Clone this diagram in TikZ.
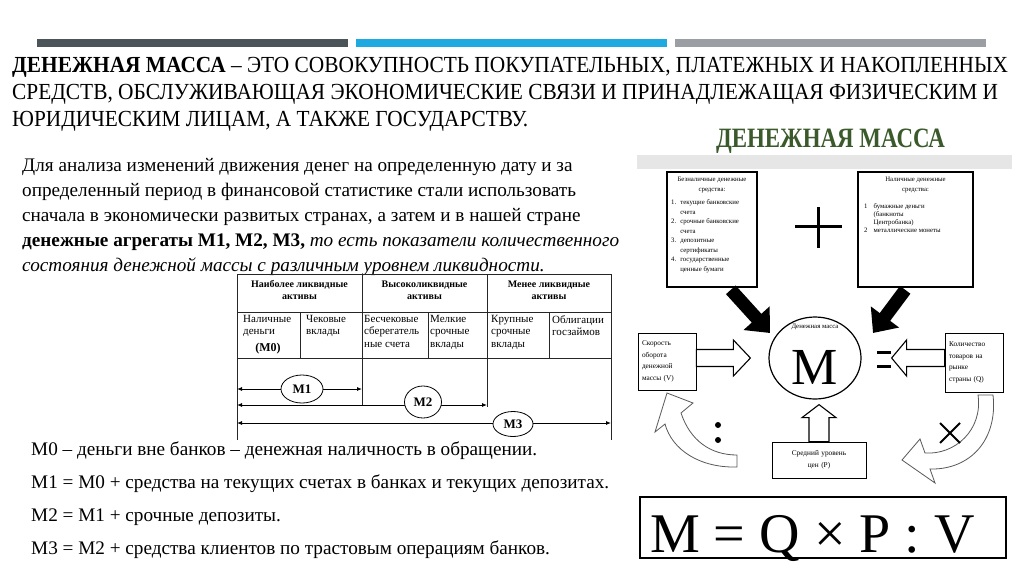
\documentclass[tikz,border=0pt]{standalone}
\usepackage{fontspec}
\usepackage{graphicx}
\setmainfont{Liberation Serif}
\usetikzlibrary{shapes.geometric,arrows.meta,calc}
\definecolor{bardark}{HTML}{4B5459}
\definecolor{barblue}{HTML}{1FA9E1}
\definecolor{bargray}{HTML}{9B9FA4}
\definecolor{titlegreen}{HTML}{3B5A2B}
\definecolor{bandgray}{HTML}{E6E6E6}
\tikzset{
  headtxt/.style={anchor=base west, inner sep=0pt, font=\fontsize{23}{27}\selectfont},
  bodytxt/.style={anchor=base west, inner sep=0pt, font=\fontsize{19.2}{25}\selectfont},
  lowtxt/.style={anchor=base west, inner sep=0pt, font=\fontsize{19.2}{25}\selectfont},
  tbl/.style={line width=0.7pt, draw=black!85},
  tblhead/.style={align=center, inner sep=0pt, font=\bfseries\fontsize{10}{12}\selectfont},
  tblcell/.style={anchor=north west, align=left, inner sep=0pt, font=\fontsize{11}{12.5}\selectfont},
  tarrow/.style={line width=0.9pt, {Latex[length=5pt,width=4pt]}-{Latex[length=5pt,width=4pt]}},
  mell/.style={ellipse, draw, line width=0.8pt, fill=white, inner sep=0pt, font=\bfseries\fontsize{13}{13}\selectfont},
  topbox/.style={draw, line width=1.6pt, inner sep=0pt},
  tinytxt/.style={inner sep=0pt, font=\fontsize{6.8}{9.5}\selectfont},
  sidebox/.style={draw, line width=0.8pt, inner xsep=4pt, inner ysep=0pt, align=left, font=\fontsize{7.3}{11.5}\selectfont},
  hollowarrow/.style={draw, line width=1.1pt, fill=white, line join=miter},
  curvearrow/.style={draw=black!65, line width=0.8pt, fill=white, line join=miter},
  blackarrow/.style={line width=13pt, -{Triangle[length=20pt,width=34pt]}},
}
\begin{document}
\begin{tikzpicture}[x=1pt,y=-1pt]
\useasboundingbox (0,0) rectangle (1024,576);
\fill[white] (0,0) rectangle (1024,576);

% top bars
\fill[bardark] (37,39) rectangle (348,47);
\fill[barblue] (356,39) rectangle (667,47);
\fill[bargray] (675,39) rectangle (986,47);

% heading
\node[headtxt] (h1) at (12,72) {\resizebox{996pt}{\height}{\textbf{ДЕНЕЖНАЯ МАССА} – ЭТО СОВОКУПНОСТЬ ПОКУПАТЕЛЬНЫХ, ПЛАТЕЖНЫХ И НАКОПЛЕННЫХ}};
\node[headtxt] (h2) at (12,99) {\resizebox{986pt}{\height}{СРЕДСТВ, ОБСЛУЖИВАЮЩАЯ ЭКОНОМИЧЕСКИЕ СВЯЗИ И ПРИНАДЛЕЖАЩАЯ ФИЗИЧЕСКИМ И}};
\node[headtxt] (h3) at (12,126) {\resizebox{516pt}{\height}{ЮРИДИЧЕСКИМ ЛИЦАМ, А ТАКЖЕ ГОСУДАРСТВУ.}};

% body paragraph
\node[bodytxt] (b1) at (22,171) {Для анализа изменений движения денег на определенную дату и за};
\node[bodytxt] (b2) at (22,196) {определенный период в финансовой статистике стали использовать};
\node[bodytxt] (b3) at (22,221) {сначала в экономически развитых странах, а затем и в нашей стране};
\node[bodytxt] (b4) at (22,246) {\textbf{денежные агрегаты M1, M2, M3,} \textit{то есть показатели количественного}};
\node[bodytxt] (b5) at (22,271) {\textit{состояния денежной массы с различным уровнем ликвидности.}};

% table
\coordinate (tTL) at (237,274);
\coordinate (tBR) at (611,358);
\draw[tbl] (tTL) rectangle (tBR);
\draw[tbl] (237,312) -- (611,312);
\draw[tbl] (362,274) -- (362,405);
\draw[tbl] (487,274) -- (487,407);
\draw[tbl] (300,312) -- (300,358);
\draw[tbl] (428,312) -- (428,358);
\draw[tbl] (549,312) -- (549,358);
\draw[tbl] (237,358) -- (237,440);
\draw[tbl] (611,358) -- (611,440);
\node[tblhead] (th1) at (299.5,290) {Наиболее ликвидные\\активы};
\node[tblhead] (th2) at (424.5,290) {Высоколиквидные\\активы};
\node[tblhead] (th3) at (549,290) {Менее ликвидные\\активы};
\node[tblcell] (c1) at (243,315) {Наличные\\деньги};
\node[inner sep=0pt, font=\bfseries\fontsize{12}{12}\selectfont] (c1b) at (268,349) {(M0)};
\node[tblcell] (c2) at (306,315) {Чековые\\вклады};
\node[tblcell] (c3) at (364,315) {Бесчековые\\сберегатель\\ные счета};
\node[tblcell] (c4) at (430,315) {Мелкие\\срочные\\вклады};
\node[tblcell] (c5) at (491,315) {Крупные\\срочные\\вклады};
\node[tblcell] (c6) at (552,315) {Облигации\\госзаймов};

\coordinate (a1l) at (237,389); \coordinate (a1r) at (362,389);
\coordinate (a2l) at (237,405); \coordinate (a2r) at (487,405);
\coordinate (a3l) at (237,423); \coordinate (a3r) at (611,423);
\draw[tarrow] (a1l) -- (a1r);
\draw[tarrow] (a2l) -- (a2r);
\draw[tarrow] (a3l) -- (a3r);
\node[mell, minimum width=42, minimum height=28] (m1) at (302,389) {M1};
\node[mell, minimum width=37, minimum height=32] (m2) at (423,402) {M2};
\node[mell, minimum width=40, minimum height=25] (m3) at (513,424) {M3};

% bottom text
\node[lowtxt] (l1) at (31,455) {M0 – деньги вне банков – денежная наличность в обращении.};
\node[lowtxt] (l2) at (31,488) {M1 = M0 + средства на текущих счетах в банках и текущих депозитах.};
\node[lowtxt] (l3) at (31,521) {M2 = M1 + срочные депозиты.};
\node[lowtxt] (l4) at (31,554) {M3 = M2 + средства клиентов по трастовым операциям банков.};

% right diagram title
\node[inner sep=0pt, anchor=base, text=titlegreen, font=\bfseries\fontsize{28}{30}\selectfont] (title) at (830.5,147) {\resizebox{229pt}{\height}{ДЕНЕЖНАЯ МАССА}};
\fill[bandgray] (637,155) rectangle (1012,169);

% top boxes
\node[topbox, minimum width=90, minimum height=115] (LB) at (712,229.5) {};
\node[topbox, minimum width=115, minimum height=115] (RB) at (915.5,229.5) {};
\node[tinytxt, anchor=north, align=center] (LBt) at ($(LB.north)+(0,6)$) {Безналичные денежные\\средства:};
\node[tinytxt, anchor=north west] (LBl) at (671,198) {\begin{tabular}{@{}l@{\hspace{4pt}}l@{}}1.&текущие банковские\\&счета\\2.&срочные банковские\\&счета\\3.&депозитные\\&сертификаты\\4.&государственные\\&ценные бумаги\end{tabular}};
\node[tinytxt, anchor=north, align=center] (RBt) at ($(RB.north)+(0,6)$) {Наличные денежные\\средства:};
\node[tinytxt, anchor=north west, font=\fontsize{6.8}{8}\selectfont] (RBl) at (864,203) {\begin{tabular}{@{}l@{\hspace{6pt}}l@{}}1&бумажные деньги\\&(банкноты\\&Центробанка)\\2&металлические монеты\end{tabular}};

% plus
\draw[line width=3pt] (795,226) -- (842,226);
\draw[line width=3pt] (818.5,207) -- (818.5,248);

% central circle
\node[ellipse, draw, line width=1.2pt, minimum width=92, minimum height=82, inner sep=0pt] (Mc) at (815,358) {};
\node[inner sep=0pt, font=\fontsize{6.8}{7}\selectfont] (Mlab) at (815,327) {Денежная масса};
\node[inner sep=0pt, font=\fontsize{52}{52}\selectfont] (Mbig) at (815,367) {M};

% black arrows
\draw[blackarrow] ($(LB.south east)+(-27,2)$) -- ($(Mc)+(-45,-25)$);
\draw[blackarrow] ($(RB.south west)+(48,2)$) -- ($(Mc)+(58,-25)$);

% side boxes
\node[sidebox, text width=50, minimum height=57] (V) at (667,361.5) {Скорость\\оборота\\денежной\\массы (V)};
\node[sidebox, text width=50, minimum height=59] (Q) at (974,362.5) {Количество\\товаров на\\рынке\\страны (Q)};
\node[sidebox, align=center, inner xsep=2pt, text width=90, minimum height=36] (P) at (819,460) {Средний уровень\\цен (P)};

% hollow arrows
\draw[hollowarrow] (V.east |- Mc) ++(0,-8.5) -- ++(37,0) -- ++(0,-9.5) -- ++(17,18) -- ++(-17,18) -- ++(0,-9.5) -- ++(-37,0) -- cycle;
\draw[hollowarrow] (Q.west |- Mc) ++(0,-8.5) -- ++(-38,0) -- ++(0,-9.5) -- ++(-15,18) -- ++(15,18) -- ++(0,-9.5) -- ++(38,0) -- cycle;
\draw[hollowarrow] (P.north) ++(-10,0) -- ++(0,-24) -- ++(-7,0) -- ++(17,-13) -- ++(17,13) -- ++(-7,0) -- ++(0,24) -- cycle;

% equals
\draw[line width=3pt] (877,352) -- (891,352);
\draw[line width=3pt] (877,366) -- (891,366);

% curved arrows
\draw[curvearrow] (667,393) -- (693,403) -- (681,413) .. controls (690,440) and (710,455) .. (737,455) -- (737,467) .. controls (700,468) and (672,450) .. (665,424) -- (655,432) -- cycle;
\fill (718,425) circle (3);
\fill (718,440) circle (3);
\draw[curvearrow] (902,460) -- (920,439) -- (925,453) .. controls (955,455) and (983,430) .. (978,395) -- (993,395) .. controls (998,440) and (970,470) .. (930,469) -- (935,483) -- cycle;
\draw[line width=2pt] (940,423) -- (960,443);
\draw[line width=2pt] (940,443) -- (960,423);

% formula
\node[draw, line width=1.2pt, minimum width=366, minimum height=61, inner sep=0pt] (F) at (823,527.5) {};
\node[inner sep=0pt, anchor=base west, font=\fontsize{56}{56}\selectfont] (Ft) at (650,552) {M = Q × P : V};
\end{tikzpicture}
\end{document}
